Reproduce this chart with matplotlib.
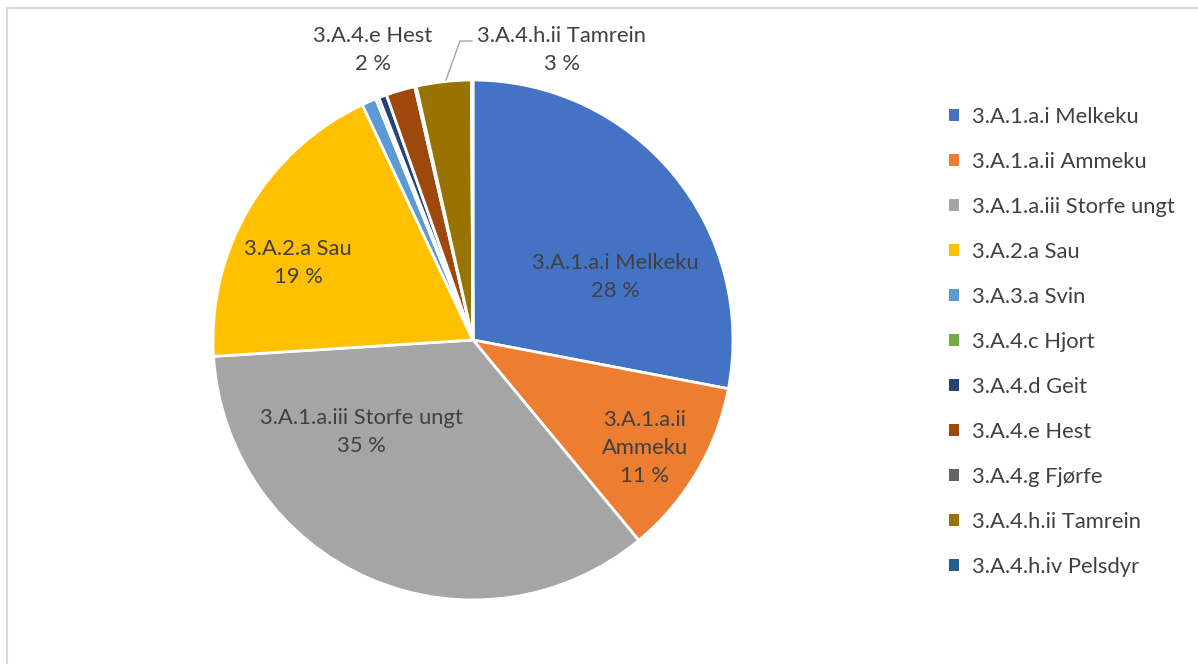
import numpy as np
import matplotlib.pyplot as plt
from matplotlib.lines import Line2D
from matplotlib.patches import Patch

# data (shares in %)
categories = ['3.A.1.a.i Melkeku', '3.A.1.a.ii Ammeku', '3.A.1.a.iii Storfe ungt',
              '3.A.2.a Sau', '3.A.3.a Svin', '3.A.4.c Hjort', '3.A.4.d Geit',
              '3.A.4.e Hest', '3.A.4.g Fjørfe', '3.A.4.h.ii Tamrein', '3.A.4.h.iv Pelsdyr']
shares = [28.0, 11.0, 35.0, 19.0, 0.9, 0.2, 0.5, 1.8, 0.1, 3.4, 0.1]
pct_labels = ['28 %', '11 %', '35 %', '19 %', '', '', '', '2 %', '', '3 %', '']
slice_names = ['3.A.1.a.i Melkeku', '3.A.1.a.ii\nAmmeku', '3.A.1.a.iii Storfe ungt',
               '3.A.2.a Sau', '', '', '', '3.A.4.e Hest', '', '3.A.4.h.ii Tamrein', '']

colors = ['#4472C4', '#ED7D31', '#A5A5A5', '#FFC000', '#5B9BD5', '#70AD47',
          '#264478', '#9E480E', '#636363', '#997300', '#255E91']

plt.rcParams['font.family'] = ['Lato', 'DejaVu Sans']
txt_color = '#404040'
fs = 15.8

fig = plt.figure(figsize=(11.98, 6.64), dpi=100)

# light frame (top and left edge visible)
fig.add_artist(Line2D([7 / 1198, 7 / 1198], [0, 1 - 8 / 664], color='#D9D9D9', lw=1.5))
fig.add_artist(Line2D([7 / 1198, 1], [1 - 8 / 664, 1 - 8 / 664], color='#D9D9D9', lw=1.5))

ax = fig.add_axes([213 / 1198, 64 / 664, 520 / 1198, 520 / 664])
wedges, _ = ax.pie(shares, colors=colors, startangle=90, counterclock=False,
                   radius=1, wedgeprops=dict(edgecolor='white', linewidth=2))
ax.set_xlim(-1, 1)
ax.set_ylim(-1, 1)
ax.set_aspect('auto')
ax.axis('off')

# label placement (relative to pie radius)
label_pos = {0: (0.546, 0.242), 1: (0.66, -0.415), 2: (-0.43, -0.354), 3: (-0.673, 0.296),
             7: (-0.385, 1.115), 9: (0.342, 1.115)}
for i, (x, y) in label_pos.items():
    ax.text(x, y, slice_names[i] + '\n' + pct_labels[i], ha='center', va='center',
            fontsize=fs, color=txt_color, linespacing=1.5, clip_on=False)

# leader line for Tamrein
ax.plot([-0.104, -0.05, -0.004], [1.0, 1.15, 1.15], color='#A6A6A6', lw=1, clip_on=False)

handles = [Patch(facecolor=c, edgecolor='none') for c in colors]
leg = fig.legend(handles, categories, loc='center left', bbox_to_anchor=(0.776, 0.485),
                 frameon=False, fontsize=fs, labelcolor=txt_color,
                 handlelength=0.45, handleheight=0.45, handletextpad=0.6,
                 labelspacing=1.14)

fig.savefig('out.png', dpi=100, facecolor='white')
